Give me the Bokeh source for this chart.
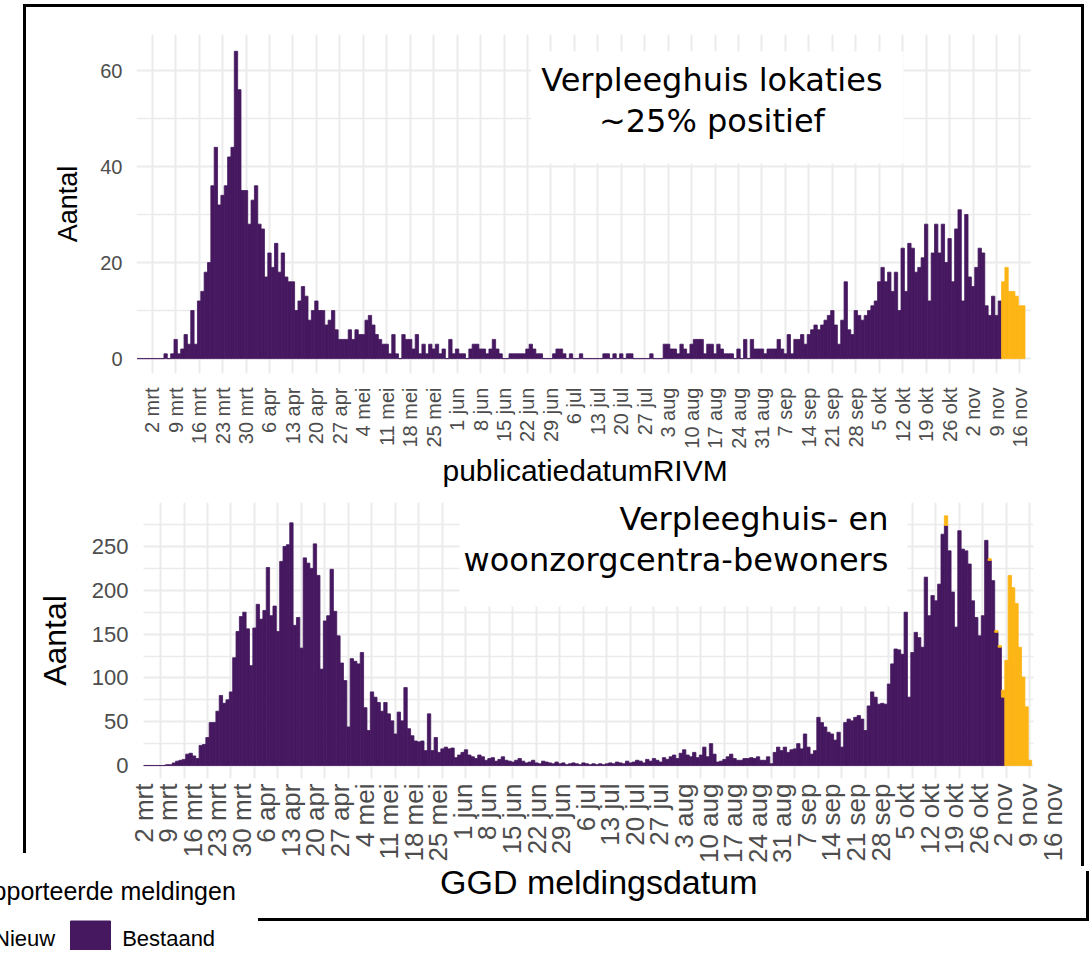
import math
from bokeh.plotting import figure
from bokeh.models import (Range1d, FixedTicker, ColumnDataSource, Label, Legend,
                          LegendItem, Div, BoxAnnotation, Title)
from bokeh.layouts import column, row
from bokeh.embed import file_html
from bokeh.resources import INLINE

PURPLE = "#45185F"
ORANGE = "#FDB515"
GRID = "#EBEBEB"
TICKCOL = "#4D4D4D"
FONT = "Liberation Sans"

# ---------------- data ----------------
tick_labels = ["2 mrt", "9 mrt", "16 mrt", "23 mrt", "30 mrt", "6 apr", "13 apr", "20 apr",
               "27 apr", "4 mei", "11 mei", "18 mei", "25 mei", "1 jun", "8 jun", "15 jun",
               "22 jun", "29 jun", "6 jul", "13 jul", "20 jul", "27 jul", "3 aug", "10 aug",
               "17 aug", "24 aug", "31 aug", "7 sep", "14 sep", "21 sep", "28 sep", "5 okt",
               "12 okt", "19 okt", "26 okt", "2 nov", "9 nov", "16 nov"]

# day numbers are counted from 2 mrt (= 0)
top_first_day = -4
top_bestaand = [0, 0, 0, 0,
                0, 0, 0, 0,
                1, 0, 1, 4, 1, 2, 5, 3, 10, 3,
                12, 14, 18, 20, 36, 44, 32, 34, 36, 42,
                44, 64, 56, 35, 35, 28, 33, 36, 28, 27,
                17, 22, 19, 24, 18, 22, 17, 16, 16, 10,
                12, 15, 13, 8, 10, 12, 10, 10, 7, 8,
                10, 6, 4, 4, 4, 6, 4, 6, 5, 5,
                8, 9, 7, 5, 4, 3, 3, 1, 5, 1,
                0, 5, 4, 4, 2, 5, 1, 3, 1, 3,
                2, 3, 1, 2, 0, 4, 1, 2, 1, 1,
                0, 2, 3, 3, 2, 2, 1, 2, 4, 2,
                1, 0, 0, 1, 1, 1, 1, 1, 2, 3,
                2, 1, 1, 0, 0, 0, 1, 2, 2, 1,
                0, 1, 0, 0, 1, 0, 0, 0, 0, 0,
                0, 1, 1, 0, 1, 0, 1, 0, 1, 1,
                0, 0, 0, 0, 0, 1, 0, 0, 0, 3,
                3, 2, 2, 1, 3, 2, 1, 3, 4, 4,
                4, 1, 3, 3, 1, 3, 2, 1, 1, 1,
                0, 2, 0, 4, 0, 4, 2, 2, 2, 1,
                2, 2, 2, 4, 2, 1, 5, 1, 4, 4,
                5, 3, 5, 6, 7, 6, 7, 8, 9, 10,
                7, 3, 8, 16, 6, 5, 10, 9, 8, 9,
                10, 11, 12, 16, 19, 16, 18, 14, 18, 10,
                23, 14, 24, 23, 18, 19, 21, 28, 12, 22,
                28, 22, 28, 20, 25, 16, 27, 31, 12, 30,
                17, 15, 19, 23, 22, 11, 9, 13, 9, 12]
top_nieuw_days = [254, 255, 256, 257, 258, 259, 260]
top_nieuw = [16, 19, 14, 14, 13, 11, 11]

bottom_first_day = -5
bottom_bestaand = [0, 0, 0, 0, 0, 0, 0,
                   1, 1, 3, 5, 6, 7, 13, 14, 11, 8,
                   23, 24, 32, 49, 49, 62, 80, 71, 75, 84,
                   123, 153, 170, 175, 156, 114, 157, 184, 167, 177,
                   226, 171, 182, 153, 233, 250, 252, 277, 160, 169,
                   134, 237, 231, 225, 253, 217, 110, 165, 171, 224,
                   176, 148, 117, 97, 44, 122, 119, 116, 129, 66,
                   40, 84, 78, 72, 62, 72, 59, 51, 36, 61,
                   51, 89, 42, 34, 28, 27, 28, 17, 59, 17,
                   32, 15, 19, 21, 19, 20, 9,
                   12, 15, 18, 12, 10, 8, 12, 10, 6, 8, 9, 5,
                   7, 10, 6, 5, 4, 6, 8, 5, 3, 4, 6, 3, 2, 5, 4,
                   3, 2, 4, 2, 3, 1, 2, 3, 2, 1, 3, 2, 1, 2, 1,
                   2, 1, 2, 3, 2, 4, 3, 2, 5, 3, 4, 6, 5, 3, 7,
                   5, 8, 6, 4, 9, 7, 10, 12, 8, 14, 18, 12, 10, 15, 9, 12,
                   21, 10, 25, 13, 4, 5, 7,
                   10, 13, 8, 6, 6, 8, 8, 9, 8, 10,
                   6, 6, 10, 2, 15, 21, 17, 21, 15, 18,
                   19, 25, 19, 36, 21, 13, 17, 55, 49, 44,
                   38, 36, 29, 38, 21, 49, 53, 51, 55, 57,
                   53, 40, 68, 84, 78, 70, 71, 70, 93, 116,
                   133, 132, 127, 175, 78, 129, 152, 146, 135, 215,
                   171, 194, 188, 207, 264, 274, 245, 198, 158, 268,
                   247, 245, 230, 188, 169, 148, 171, 257, 234, 211,
                   152, 135, 78]
bottom_nieuw_days = [234, 247, 249, 250, 251, 252, 253, 254, 255, 256, 257, 258, 259]
bottom_nieuw = [11, 2, 2, 2, 8, 120, 217, 203, 185, 135, 101, 67, 6]

tick_days = [7 * i for i in range(len(tick_labels))]

W = 1088
FRAME_L = 136      # both panels share the same frame edges (column aligns them)
FRAME_R = 1060


def add_bars(p, first_day, bestaand, nieuw_days, nieuw_vals):
    days = list(range(first_day, first_day + len(bestaand)))
    src = ColumnDataSource(dict(x=days, top=bestaand))
    rb = p.vbar(x="x", top="top", bottom=0, width=1, source=src,
                fill_color=PURPLE, line_color=PURPLE, line_width=0.8)
    base = dict(zip(days, bestaand))
    bots = [base.get(d, 0) for d in nieuw_days]
    tops = [b + v for b, v in zip(bots, nieuw_vals)]
    src2 = ColumnDataSource(dict(x=nieuw_days, bottom=bots, top=tops))
    rn = p.vbar(x="x", top="top", bottom="bottom", width=1, source=src2,
                fill_color=ORANGE, line_color=ORANGE, line_width=0.8)
    return rb, rn


def style(p, yticks, yminor, ylabel, ytick_fs, xtick_fs, ylab_fs, xstand, ystand, ylabstand):
    p.outline_line_color = None
    p.background_fill_color = "white"
    p.border_fill_alpha = 0
    p.yaxis.axis_label = ylabel
    for ax in (p.xaxis[0], p.yaxis[0]):
        ax.axis_line_color = None
        ax.major_tick_line_color = None
        ax.minor_tick_line_color = None
        ax.major_tick_out = 0
        ax.major_tick_in = 0
        ax.minor_tick_out = 0
        ax.major_label_text_font = FONT
        ax.major_label_text_color = TICKCOL
        ax.axis_label_text_font = FONT
        ax.axis_label_text_font_style = "normal"
        ax.axis_label_text_color = "black"
    p.xaxis.ticker = FixedTicker(ticks=tick_days)
    p.xaxis.major_label_overrides = {d: s for d, s in zip(tick_days, tick_labels)}
    p.xaxis.major_label_orientation = math.pi / 2
    p.xaxis.major_label_text_font_size = xtick_fs
    p.xaxis.major_label_standoff = xstand
    p.yaxis.ticker = FixedTicker(ticks=yticks, minor_ticks=yminor)
    p.yaxis.major_label_text_font_size = ytick_fs
    p.yaxis.major_label_standoff = ystand
    p.yaxis.axis_label_text_font_size = ylab_fs
    p.yaxis.axis_label_standoff = ylabstand
    p.xgrid.ticker = FixedTicker(ticks=tick_days)
    p.xgrid.grid_line_color = GRID
    p.xgrid.grid_line_width = 2
    p.ygrid.grid_line_color = GRID
    p.ygrid.grid_line_width = 2
    p.ygrid.minor_grid_line_color = GRID
    p.ygrid.minor_grid_line_width = 1.5


def mask(p, **kw):
    # white-out of the part of the shared frame that the original panel does not cover
    p.add_layout(BoxAnnotation(fill_color="white", fill_alpha=1, line_color=None, **kw))


def lines_css(*segs):
    # each seg: (left, top, width, height) in px, drawn as solid black strips
    return ", ".join("linear-gradient(#000,#000) %dpx %dpx / %dpx %dpx no-repeat" % s
                     for s in segs)


# ---------------- top panel ----------------
# 3.35 px per day, 2 mrt at x = 151.7
top = figure(width=W, height=490, x_range=Range1d(-4.69, 271.1),
             y_range=Range1d(-3.1, 67.5), output_backend="svg", toolbar_location=None,
             min_border_left=FRAME_L, min_border_right=W - FRAME_R, min_border_top=34,
             min_border_bottom=117,
             styles={"background": lines_css((23, 4, 1061, 3), (23, 4, 3, 486),
                                              (1081, 4, 3, 486))})
add_bars(top, top_first_day, top_bestaand, top_nieuw_days, top_nieuw)
style(top, [0, 20, 40, 60], [10, 30, 50], "Aantal", "20px", "20px", "27px", 14, 14, 14)
# x-axis title, centred under the original (narrower) plot area
top.add_layout(Title(text="publicatiedatumRIVM", align="left", offset=306, standoff=0,
                     text_font=FONT, text_font_size="30px", text_font_style="normal",
                     text_color="black"), "below")
mask(top, left=262.2)
top.add_layout(Label(x=168.7, y=52.3, text="Verpleeghuis lokaties\n~25% positief",
                     text_align="center", text_baseline="middle",
                     text_font="DejaVu Sans", text_font_size="32px", text_color="black",
                     text_line_height=1.08,
                     background_fill_color="white", background_fill_alpha=1,
                     padding=(10, 21, 10, 23)))

# ---------------- bottom panel ----------------
# 3.357 px per day, 2 mrt at x = 160; its date labels sit on a slightly wider
# spacing than its grid (24.57 px per week from x = 143), as in the original picture
bot = figure(width=W, height=376, x_range=Range1d(-7.15, 268.1),
             y_range=Range1d(-14.8, 300.2), output_backend="svg", toolbar_location=None,
             min_border_left=FRAME_L, min_border_right=W - FRAME_R, min_border_top=12,
             min_border_bottom=88,
             styles={"background": lines_css((23, 0, 3, 363), (1081, 0, 3, 376))})
bot.extra_x_ranges = {"lab": Range1d((FRAME_L - 143) / 24.57, (FRAME_R - 143) / 24.57)}
rb, rn = add_bars(bot, bottom_first_day, bottom_bestaand, bottom_nieuw_days, bottom_nieuw)
style(bot, [0, 50, 100, 150, 200, 250], [25, 75, 125, 175, 225, 275], "Aantal",
      "22px", "26px", "32px", 5, 8, 16)
bot.xaxis.x_range_name = "lab"
bot.xaxis.ticker = FixedTicker(ticks=list(range(len(tick_labels))))
bot.xaxis.major_label_overrides = {i: s for i, s in enumerate(tick_labels)}
mask(bot, right=-5.06)
mask(bot, left=260.05)
bot.add_layout(Label(x=222.5, y=244.3, text="Verpleeghuis- en\nwoonzorgcentra-bewoners",
                     text_align="right", text_baseline="middle",
                     text_font="DejaVu Sans", text_font_size="32px", text_color="black",
                     text_line_height=1.08,
                     background_fill_color="white", background_fill_alpha=1,
                     padding=(4, 19, 4, 27)))

# ---------------- legend + x-axis title row ----------------
leg = figure(width=253, height=84, x_range=Range1d(0, 1), y_range=Range1d(0, 1),
             output_backend="svg", toolbar_location=None, min_border=0,
             x_axis_location=None, y_axis_location=None)
leg.grid.grid_line_color = None
leg.outline_line_color = None
leg.background_fill_alpha = 0
leg.border_fill_alpha = 0
# legend-only renderers, kept outside the visible range
dn = leg.vbar(x=[-10], top=[-10], width=1, fill_color=ORANGE, line_color=ORANGE)
db = leg.vbar(x=[-10], top=[-10], width=1, fill_color=PURPLE, line_color=PURPLE)
legend = Legend(items=[LegendItem(label="Nieuw", renderers=[dn]),
                       LegendItem(label="Bestaand", renderers=[db])],
                orientation="horizontal", title="Gerapporteerde meldingen",
                location=(-63, -11), glyph_width=50, glyph_height=45,
                label_standoff=7, spacing=10, padding=5, margin=0, title_standoff=10,
                label_text_font=FONT, label_text_font_size="22px", label_text_color="black",
                title_text_font=FONT, title_text_font_size="25px",
                title_text_font_style="normal", title_text_color="black",
                border_line_color=None, background_fill_color="white",
                background_fill_alpha=1)
leg.add_layout(legend, "center")

xtitle = Div(text='<div style="font-family:\'Liberation Sans\'; font-size:34px; '
                  'line-height:32px; padding-left:182px; color:black; position:relative; '
                  'top:-5px; white-space:nowrap;">GGD meldingsdatum</div>',
             width=W - 253, height=84,
             styles={"background": lines_css((0, 47, 831, 3), (828, 0, 3, 50))})

layout = column(top, bot, row(leg, xtitle, spacing=0), spacing=0)
open("out.html", "w").write(file_html(layout, INLINE))
